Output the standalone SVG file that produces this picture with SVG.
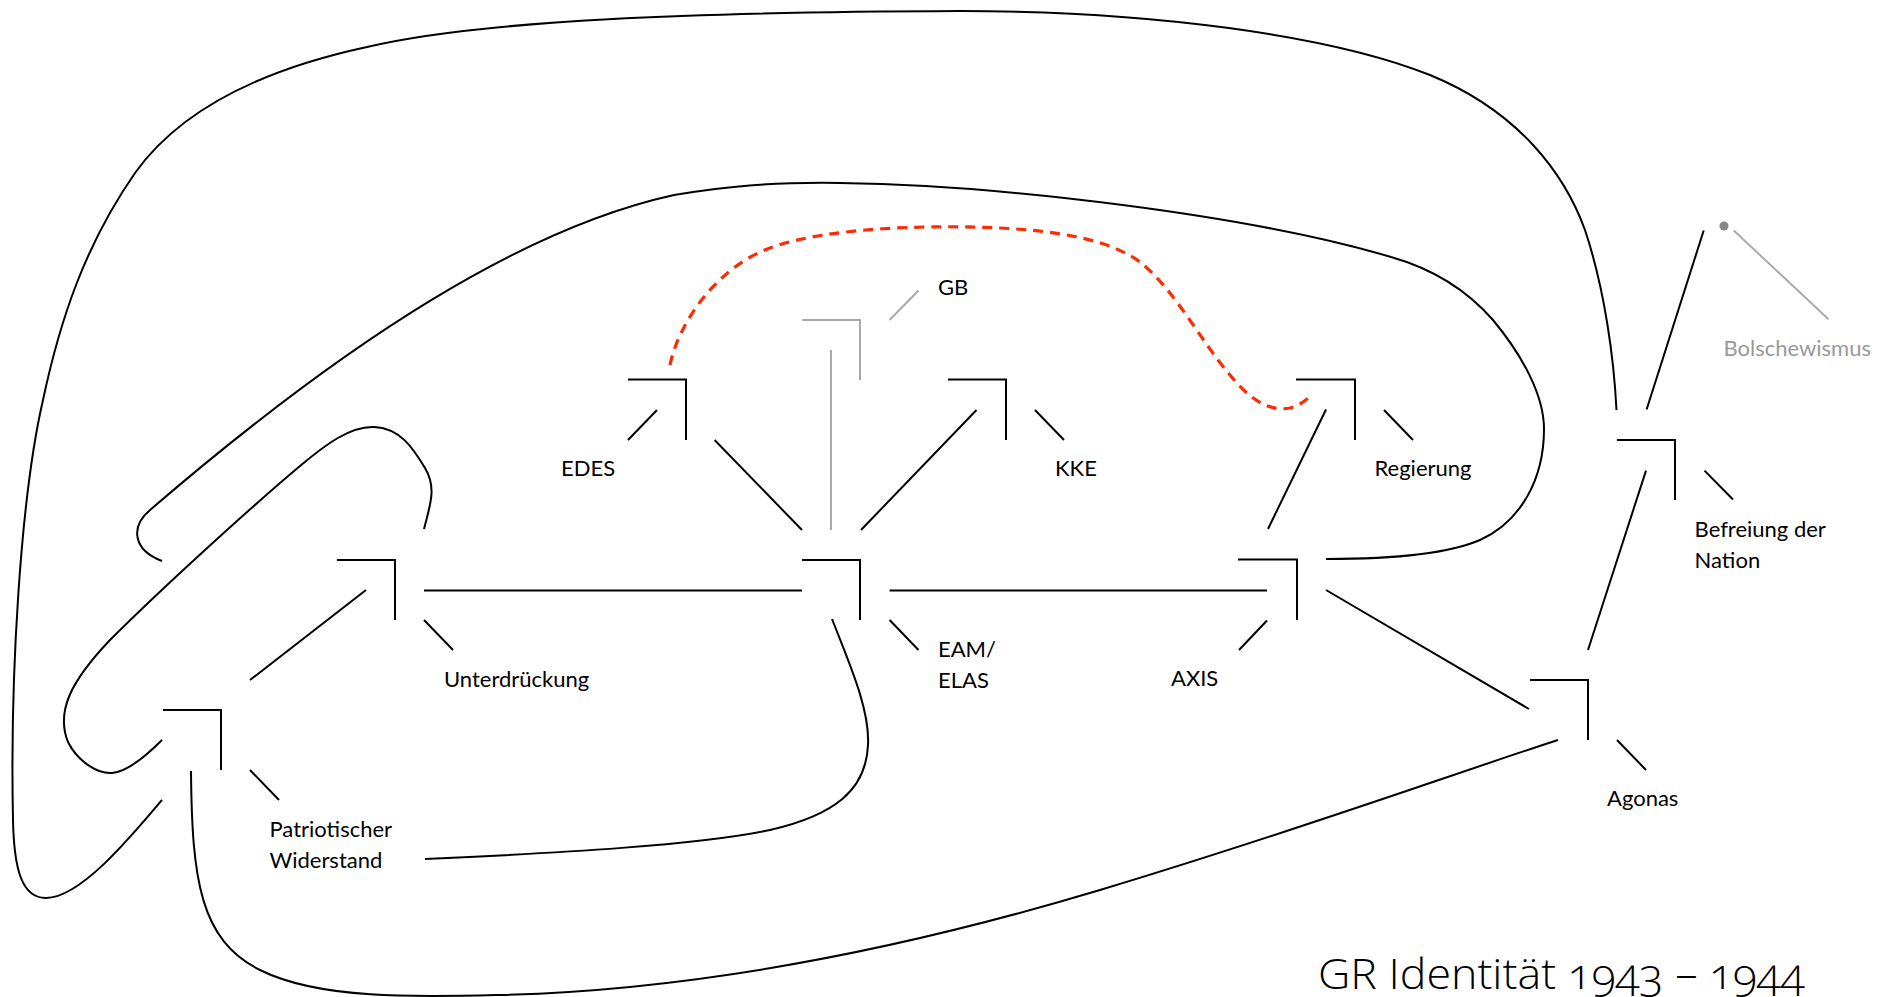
<svg xmlns="http://www.w3.org/2000/svg" width="1883" height="997" viewBox="0 0 1883 997">
<style>
.ln{fill:none;stroke:#000;stroke-width:2;stroke-linecap:butt}
.gr{fill:none;stroke:#aaa;stroke-width:2}
.rd{fill:none;stroke:#ff2a00;stroke-width:3.2;stroke-dasharray:10 7}
.lb{font-family:Lato,"Open Sans","Liberation Sans",sans-serif;font-size:22px;fill:#000}
.lbg{font-family:Lato,"Open Sans","Liberation Sans",sans-serif;font-size:22px;fill:#999}
.tt{font-family:"Open Sans","Noto Sans",Lato,sans-serif;font-size:42px;font-weight:300;fill:#000;font-variant-numeric:oldstyle-nums;font-feature-settings:"onum" 1}
</style>
<rect width="1883" height="997" fill="#fff"/>
<g id="connectors">
<path class="ln" d="M250,680 L366,590"/>
<path class="ln" d="M424,590.5 H802"/>
<path class="ln" d="M714.6,440 L802,530"/>
<path class="gr" d="M831,350 V530"/>
<path class="ln" d="M861,530 L976.5,410"/>
<path class="ln" d="M889.6,590.5 H1267"/>
<path class="ln" d="M1268,529 L1326,409.5"/>
<path class="ln" d="M1326,590 L1529,709"/>
<path class="ln" d="M1588,650 L1646,470.6"/>
<path class="ln" d="M1646.6,409.5 L1703.7,230.5"/>
<path class="ln" d="M424,529 C430,505 437,488 425,468 C413,448 400,428 374,427 C350,426 325,445 300,466 C250,508 160,590 110,640 C70,682 56,712 68,742 C78,762 98,774 112,773 C126,772 142,760 162,740"/>
<path class="ln" d="M1326,559 C1400,559 1450,553 1480,540 C1520,522 1544,480 1544,429 C1544,395 1522,355 1493,320 C1465,288 1430,268 1391,257 C1250,215 1000,185 840,183 C770,182 724,186.5 674,195 C524,228 350,338 150,510 C130,527 133,550 162,561"/>
<path class="ln" d="M162,800 C130,838 80,898 46,898 C22,898 14,870 13,820 C10,680 20,500 43,400 C60,320 85,245 135,173 C180,110 260,70 367,47 C480,20 700,12 960,11 C1150,11 1330,35 1430,75 C1520,112 1565,175 1585,230 C1605,290 1614,360 1616.5,410"/>
<path class="ln" d="M191,771 C192,880 200,940 260,970 C320,1000 420,997 500,995 C700,990 900,950 1100,890 C1300,830 1450,775 1558,740"/>
<path class="ln" d="M832,619 C850,665 870,710 868,745 C866,790 835,815 770,830 C700,845 560,853 425,859"/>
<path class="rd" d="M670,365 C678,325 715,268 770,248 C830,226 940,225 1000,228 C1060,231 1110,240 1140,262 C1175,290 1200,340 1230,375 C1250,400 1270,412 1290,408 C1300,405 1307,400 1312,394"/>
</g>
<g id="node-patriotischer">
<path class="ln" d="M163,710 H221 V770"/>
<path class="ln" d="M250,770 L279,800"/>
<text class="lb" x="269.5" y="837">Patriotischer</text>
<text class="lb" x="269.5" y="868">Widerstand</text>
</g>
<g id="node-unterdrueckung">
<path class="ln" d="M337,560 H395 V620"/>
<path class="ln" d="M424,620 L453,650"/>
<text class="lb" x="444" y="687">Unterdrückung</text>
</g>
<g id="node-edes">
<path class="ln" d="M628,379.5 H686 V440"/>
<path class="ln" d="M628,440 L657,410"/>
<text class="lb" x="561" y="476">EDES</text>
</g>
<g id="node-gb">
<path class="gr" d="M802,320 H860 V380"/>
<path class="gr" d="M889.6,320 L918.5,290.5"/>
<text class="lb" x="938" y="295">GB</text>
</g>
<g id="node-eam">
<path class="ln" d="M802,560 H860 V620"/>
<path class="ln" d="M889.6,620 L918.5,650"/>
<text class="lb" x="938" y="657">EAM/</text>
<text class="lb" x="938" y="688">ELAS</text>
</g>
<g id="node-kke">
<path class="ln" d="M948,379.5 H1006 V440"/>
<path class="ln" d="M1035,410 L1064,440"/>
<text class="lb" x="1055" y="476">KKE</text>
</g>
<g id="node-regierung">
<path class="ln" d="M1296,379.5 H1355 V440"/>
<path class="ln" d="M1384,410 L1413,440"/>
<text class="lb" x="1374.5" y="476">Regierung</text>
</g>
<g id="node-axis">
<path class="ln" d="M1238,559.5 H1297 V620"/>
<path class="ln" d="M1239,650 L1267,620.5"/>
<text class="lb" x="1171" y="686">AXIS</text>
</g>
<g id="node-agonas">
<path class="ln" d="M1530,680 H1588 V740"/>
<path class="ln" d="M1617,740 L1646,770"/>
<text class="lb" x="1607" y="806">Agonas</text>
</g>
<g id="node-befreiung">
<path class="ln" d="M1617,440 H1675 V500"/>
<path class="ln" d="M1704.5,470.6 L1733,499.5"/>
<text class="lb" x="1694.6" y="536.5">Befreiung der</text>
<text class="lb" x="1694.6" y="568">Nation</text>
</g>
<g id="node-bolschewismus">
<circle cx="1724" cy="226" r="4.5" fill="#888"/>
<path class="gr" d="M1733.8,230.5 L1828.5,319.3"/>
<text class="lbg" x="1723.5" y="356">Bolschewismus</text>
</g>
<g id="title">
<text class="tt" x="1318" y="989" textLength="487" lengthAdjust="spacingAndGlyphs">GR Identität 1943 – 1944</text>
</g>
</svg>
